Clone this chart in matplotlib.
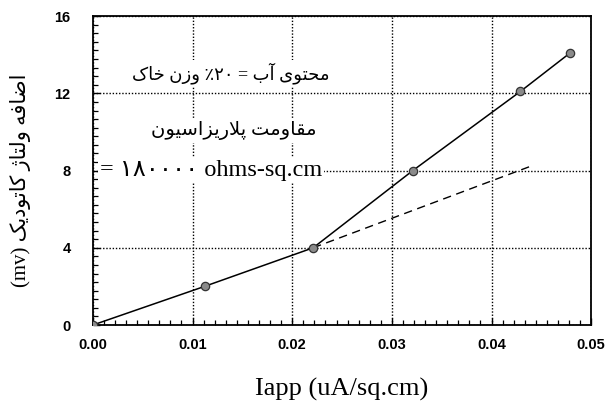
import matplotlib
matplotlib.use("Agg")
import matplotlib.pyplot as plt
from matplotlib.ticker import AutoMinorLocator, FormatStrFormatter

# measured points (solid line) and the extrapolated dashed line
iapp = [0.0, 0.0112, 0.0221, 0.0321, 0.0429, 0.0479]
overvoltage = [0.0, 2.0, 4.0, 8.0, 12.1, 14.1]
dash_x = [0.0221, 0.0438]
dash_y = [4.0, 8.2]

x_ticks = [0.00, 0.01, 0.02, 0.03, 0.04, 0.05]
y_ticks = [0, 4, 8, 12, 16]

# Persian presentation forms: isolated, final, initial, medial
FORMS = {
    "ا": ("\uFE8D", "\uFE8E", None, None),
    "آ": ("\uFE81", "\uFE82", None, None),
    "ب": ("\uFE8F", "\uFE90", "\uFE91", "\uFE92"),
    "پ": ("\uFB56", "\uFB57", "\uFB58", "\uFB59"),
    "ت": ("\uFE95", "\uFE96", "\uFE97", "\uFE98"),
    "ح": ("\uFEA1", "\uFEA2", "\uFEA3", "\uFEA4"),
    "خ": ("\uFEA5", "\uFEA6", "\uFEA7", "\uFEA8"),
    "د": ("\uFEA9", "\uFEAA", None, None),
    "ر": ("\uFEAD", "\uFEAE", None, None),
    "ز": ("\uFEAF", "\uFEB0", None, None),
    "ژ": ("\uFB8A", "\uFB8B", None, None),
    "س": ("\uFEB1", "\uFEB2", "\uFEB3", "\uFEB4"),
    "ض": ("\uFEBD", "\uFEBE", "\uFEBF", "\uFEC0"),
    "ف": ("\uFED1", "\uFED2", "\uFED3", "\uFED4"),
    "ق": ("\uFED5", "\uFED6", "\uFED7", "\uFED8"),
    "ک": ("\uFB8E", "\uFB8F", "\uFB90", "\uFB91"),
    "ل": ("\uFEDD", "\uFEDE", "\uFEDF", "\uFEE0"),
    "م": ("\uFEE1", "\uFEE2", "\uFEE3", "\uFEE4"),
    "ن": ("\uFEE5", "\uFEE6", "\uFEE7", "\uFEE8"),
    "ه": ("\uFEE9", "\uFEEA", "\uFEEB", "\uFEEC"),
    "و": ("\uFEED", "\uFEEE", None, None),
    "ی": ("\uFBFC", "\uFBFD", "\uFBFE", "\uFBFF"),
}


def shape(word):
    """Join the letters of one Persian word and return it in visual order."""
    glyphs = []
    i = 0
    while i < len(word):
        c = word[i]
        joins_prev = i > 0 and FORMS[word[i - 1]][2] is not None
        if c == "ل" and i + 1 < len(word) and word[i + 1] == "ا":
            glyphs.append("\uFEFC" if joins_prev else "\uFEFB")
            i += 2
            continue
        joins_next = FORMS[c][2] is not None and i + 1 < len(word)
        iso, fin, ini, med = FORMS[c]
        if joins_prev and joins_next:
            g = med
        elif joins_prev:
            g = fin
        elif joins_next:
            g = ini
        else:
            g = iso
        glyphs.append(g)
        i += 1
    return "".join(reversed(glyphs))


def rtl(*parts):
    # parts in reading order, laid out right to left
    return " ".join(p if p[0] in "=(٪۰۱۲۳۴۵۶۷۸۹" else shape(p) for p in reversed(parts))


line1 = rtl("محتوی", "آب", "=", "٪۲۰", "وزن", "خاک")
line2 = rtl("مقاومت", "پلاریزاسیون")
line3 = "= ۱۸۰۰۰۰ ohms-sq.cm"
ylabel = rtl("اضافه", "ولتاژ", "کاتودیک", "(mv)")
xlabel = "Iapp (uA/sq.cm)"

FAM = ["Liberation Serif", "DejaVu Sans"]

fig = plt.figure(figsize=(6.07, 4.13), dpi=100)
ax = fig.add_axes([0.153, 0.213, 0.821, 0.748])

ax.plot(dash_x, dash_y, color="black", linewidth=1.0, linestyle=(0, (6, 4)), zorder=3)
ax.plot(iapp, overvoltage, color="black", linewidth=1.1, marker="o", markersize=6,
        markerfacecolor="#8a8a8a", markeredgecolor="#333333", markeredgewidth=0.9, zorder=4)

ax.set_xlim(0, 0.05)
ax.set_ylim(0, 16)
ax.set_xticks(x_ticks)
ax.set_yticks(y_ticks)
ax.xaxis.set_major_formatter(FormatStrFormatter("%.2f"))
ax.xaxis.set_minor_locator(AutoMinorLocator(9))
ax.yaxis.set_minor_locator(AutoMinorLocator(9))
ax.grid(True, which="major", color="black", linewidth=1.0, linestyle=(0, (1, 1.3)), zorder=1)
ax.tick_params(which="both", direction="in", top=False, right=False)
ax.tick_params(which="major", length=5, width=1.0)
ax.tick_params(which="minor", length=3.5, width=0.9)
ax.tick_params(axis="x", pad=9)
ax.tick_params(axis="y", pad=16)
for lab in ax.get_xticklabels() + ax.get_yticklabels():
    lab.set_fontfamily("Liberation Sans")
    lab.set_fontweight("bold")
    lab.set_fontsize(10.5)
for sp in ax.spines.values():
    sp.set_linewidth(1.3)

box = dict(facecolor="white", edgecolor="none", pad=1.5)
ax.text(0.0138, 13.05, line1, ha="center", va="center", fontsize=13, family=FAM, bbox=box, zorder=2)
ax.text(0.0141, 10.05, line2, ha="center", va="center", fontsize=14, family=FAM, bbox=box, zorder=2)
ax.text(0.0007, 8.0, line3, ha="left", va="center", fontsize=17.5, family=FAM, bbox=box, zorder=2)

ax.set_xlabel(xlabel, fontsize=19, family="Liberation Serif")
ax.xaxis.set_label_coords(0.5, -0.17)
ax.set_ylabel(ylabel, fontsize=15, family=FAM)
ax.yaxis.set_label_coords(-0.125, 0.47)

fig.savefig("out.png", dpi=100)
